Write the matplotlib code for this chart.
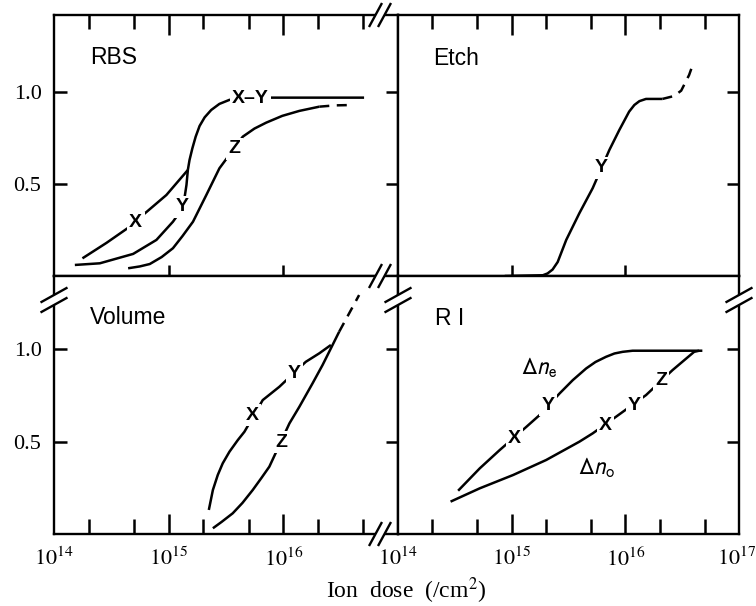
import numpy as np
import matplotlib
matplotlib.use('Agg')
import matplotlib.pyplot as plt
from matplotlib.lines import Line2D
from matplotlib.patches import Polygon
from matplotlib.ticker import FixedLocator, FixedFormatter
from matplotlib.transforms import offset_copy

plt.rcParams['mathtext.fontset'] = 'stix'
plt.rcParams['font.family'] = ['Liberation Serif', 'DejaVu Serif']

# ---------------- data ----------------
# RBS panel
rbs_x_dose = [1.77e14, 2.87e14, 4.58e14, 5.98e14, 9.55e14, 1.47e15]
rbs_x_val = [0.096, 0.18, 0.268, 0.332, 0.44, 0.576]
rbs_xy_dose = [1.47e15, 1.52e15, 1.61e15, 1.72e15, 1.86e15, 2.06e15, 2.35e15, 2.77e15, 3.39e15,
               5.16e15, 7.87e15, 5.06e16]
rbs_xy_val = [0.576, 0.630, 0.694, 0.757, 0.815, 0.862, 0.902, 0.935, 0.957, 0.967, 0.969, 0.969]
rbs_y_dose = [1.52e14, 2.51e14, 4.90e14, 7.82e14, 1.09e15, 1.29e15, 1.38e15, 1.43e15, 1.47e15]
rbs_y_val = [0.06, 0.069, 0.12, 0.196, 0.295, 0.359, 0.431, 0.495, 0.576]
rbs_z_dose = [4.43e14, 5.60e14, 6.84e14, 8.69e14, 1.09e15, 1.32e15, 1.63e15, 2.13e15, 2.77e15,
              4.43e15, 5.60e15, 7.08e15, 9.79e15, 1.38e16, 2.06e16]
rbs_z_val = [0.042, 0.052, 0.065, 0.103, 0.151, 0.217, 0.295, 0.44, 0.585, 0.757, 0.801, 0.833,
             0.87, 0.897, 0.92]
rbs_z_dash_dose = [2.06e16, 2.83e16, 4.01e16]
rbs_z_dash_val = [0.92, 0.927, 0.929]

# Etch panel
etch_dose = [8.69e14, 1.88e15, 2.07e15, 2.29e15, 2.54e15, 3.02e15, 3.94e15, 5.16e15, 7.24e15,
             8.85e15, 1.08e16, 1.20e16, 1.33e16, 1.52e16, 2.12e16]
etch_val = [0.0, 0.004, 0.014, 0.035, 0.076, 0.196, 0.341, 0.477, 0.685, 0.793, 0.893, 0.929,
            0.95, 0.962, 0.962]
etch_dash_dose = [2.12e16, 2.69e16, 3.10e16, 3.64e16, 3.94e16]
etch_dash_val = [0.962, 0.978, 1.007, 1.092, 1.152]

# Volume panel
vol_x_dose = [2.24e15, 2.43e15, 2.68e15, 2.96e15, 3.39e15, 4.01e15, 4.58e15, 6.61e15, 9.23e15,
              1.57e16, 2.06e16, 2.60e16]
vol_x_val = [0.13, 0.238, 0.319, 0.382, 0.445, 0.508, 0.553, 0.724, 0.796, 0.931, 0.977, 1.022]
vol_z_dose = [2.43e15, 2.89e15, 3.62e15, 4.40e15, 5.41e15, 6.44e15, 7.55e15, 1.13e16, 1.38e16,
              1.80e16, 2.20e16, 2.60e16, 3.07e16]
vol_z_val = [0.031, 0.065, 0.112, 0.168, 0.238, 0.303, 0.364, 0.598, 0.688, 0.815, 0.914, 1.004,
             1.094]
vol_dash_dose = [3.07e16, 4.58e16]
vol_dash_val = [1.094, 1.292]

# RI panel
ri_e_dose = [3.38e14, 5.24e14, 7.85e14, 1.35e15, 1.76e15, 2.64e15, 3.45e15, 4.52e15, 5.46e15,
             6.76e15, 8.02e15, 9.48e15, 1.16e16, 4.76e16]
ri_e_val = [0.234, 0.355, 0.454, 0.58, 0.643, 0.76, 0.832, 0.895, 0.93, 0.958, 0.976, 0.985,
            0.991, 0.991]
ri_o_dose = [2.90e14, 5.24e14, 1.03e15, 2.01e15, 3.94e15, 5.16e15, 8.28e15, 1.52e16, 2.60e16,
             4.03e16, 4.46e16]
ri_o_val = [0.175, 0.247, 0.319, 0.4, 0.499, 0.544, 0.634, 0.751, 0.886, 0.985, 0.991]

# curve labels: (text, dose, value)
rbs_labels = [('X', 5.16e14, 0.29), ('Y', 1.32e15, 0.375), ('X\u2013Y', 5.16e15, 0.967),
              ('Z', 3.75e15, 0.69)]
etch_labels = [('Y', 6.15e15, 0.587)]
vol_labels = [('X', 5.37e15, 0.643), ('Y', 1.25e16, 0.87), ('Z', 9.6e15, 0.497)]
ri_labels = [('X', 1.06e15, 0.517), ('Y', 2.08e15, 0.697), ('X', 6.68e15, 0.589),
             ('Y', 1.2e16, 0.697), ('Z', 2.06e16, 0.832)]
ri_delta_labels = [(r'$\Delta\mathit{n}_{\mathrm{e}}$', 1.76e15, 0.897),
                   (r'$\Delta\mathit{n}_{\mathrm{o}}$', 5.57e15, 0.357)]

panel_titles = ['RBS', 'Etch', 'Volume', 'R I']
ytick_vals = [0.5, 1.0]
ytick_text = ['0.5', '1.0']
xmajor = [1e15, 1e16]
xminor = [2e14, 5e14, 2e15, 5e15, 2e16, 5e16]
xlabel_pos_left = [1e14, 1e15, 1e16]
xlabels_left = [r'$10^{14}$', r'$10^{15}$', r'$10^{16}$']
xlabel_pos_right = [1e14, 1e15, 1e16]
xlabels_right = [r'$10^{14}$', r'$10^{15}$', r'$10^{16}$']
xlabel_last = r'$10^{17}$'

# ---------------- figure ----------------
W, H = 756, 606
fig = plt.figure(figsize=(W / 100, H / 100), dpi=100)
fig.patch.set_facecolor('white')

def rect(l, t, r, b):
    return [l / W, 1 - b / H, (r - l) / W, (b - t) / H]

ax_tl = fig.add_axes(rect(54, 15, 398, 276))
ax_tr = fig.add_axes(rect(398, 15, 739, 276))
ax_bl = fig.add_axes(rect(54, 276, 398, 534))
ax_br = fig.add_axes(rect(398, 276, 739, 534))
axes = (ax_tl, ax_tr, ax_bl, ax_br)
ylims = {ax_tl: (0, 1.418), ax_tr: (0, 1.418), ax_bl: (0, 1.395), ax_br: (0, 1.395)}

LW = 1.8
SPW = 1.7
TLW = 1.8
TICK_FS = 16
for ax in axes:
    ax.set_xscale('log')
    ax.set_xlim(1e14, 1e17)
    ax.set_ylim(*ylims[ax])
    for s in ax.spines.values():
        s.set_linewidth(SPW)
    ax.xaxis.set_minor_locator(FixedLocator([]))
    ax.tick_params(which='both', length=0, direction='in', labelsize=TICK_FS)

# tick labels
for ax, pos, labs in ((ax_bl, xlabel_pos_left, xlabels_left), (ax_br, xlabel_pos_right, xlabels_right)):
    ax.xaxis.set_major_locator(FixedLocator(pos))
    ax.xaxis.set_major_formatter(FixedFormatter(labs))
    ax.tick_params(axis='x', pad=10)
for ax in (ax_tl, ax_tr):
    ax.xaxis.set_major_locator(FixedLocator([]))
for ax in (ax_tl, ax_bl):
    ax.yaxis.set_major_locator(FixedLocator(ytick_vals))
    ax.yaxis.set_major_formatter(FixedFormatter(ytick_text))
    ax.tick_params(axis='y', pad=9)
for ax in (ax_tr, ax_br):
    ax.yaxis.set_major_locator(FixedLocator([]))
ax_br.text(1e17, 0, xlabel_last, ha='right', va='top', fontsize=TICK_FS,
           transform=offset_copy(ax_br.get_xaxis_transform(), fig=fig, x=17, y=-10 * 100 / 72,
                                 units='dots'))

# tick marks drawn in data coordinates (lengths given in pixels)
def xticks(ax, xs, side, L, mode):
    y0, y1 = ylims[ax]
    d = L / (ax.get_position().height * H) * (y1 - y0)
    for x in xs:
        if mode == 'inout':
            yb = y0 if side == 'bottom' else y1
            ys = [yb - d / 2, yb + d / 2]
        elif side == 'bottom':
            ys = [y0, y0 + d]
        else:
            ys = [y1, y1 - d]
        ax.plot([x, x], ys, color='black', lw=TLW, solid_capstyle='butt', clip_on=False, zorder=4)

def yticks(ax, ys, side, L, mode):
    lx0, lx1 = 14.0, 17.0
    dl = L / (ax.get_position().width * W) * (lx1 - lx0)
    for y in ys:
        if mode == 'inout':
            lb = lx0 if side == 'left' else lx1
            xs = [10 ** (lb - dl / 2), 10 ** (lb + dl / 2)]
        elif side == 'left':
            xs = [10 ** lx0, 10 ** (lx0 + dl)]
        else:
            xs = [10 ** lx1, 10 ** (lx1 - dl)]
        ax.plot(xs, [y, y], color='black', lw=TLW, solid_capstyle='butt', clip_on=False, zorder=4)

for ax in (ax_tl, ax_tr):
    xticks(ax, xmajor, 'top', 20, 'in')
    xticks(ax, xminor, 'top', 14, 'in')
    xticks(ax, xmajor, 'bottom', 22, 'inout')
for ax in (ax_bl, ax_br):
    xticks(ax, xmajor, 'bottom', 20, 'in')
    xticks(ax, xminor, 'bottom', 15, 'in')
for ax in (ax_tl, ax_bl):
    yticks(ax, ytick_vals, 'left', 13, 'in')
    yticks(ax, ytick_vals, 'right', 25, 'inout')
for ax in (ax_tr, ax_br):
    yticks(ax, ytick_vals, 'right', 12, 'in')

# ---------------- curves ----------------
def solid(ax, x, y, **kw):
    ax.plot(x, y, color='black', lw=LW, solid_capstyle='butt', solid_joinstyle='round', **kw)

def dashed(ax, x, y):
    ax.plot(x, y, color='black', lw=LW, ls=(0, (4.0, 3.0)), dash_capstyle='butt')

solid(ax_tl, rbs_x_dose, rbs_x_val)
solid(ax_tl, rbs_xy_dose, rbs_xy_val)
solid(ax_tl, rbs_y_dose, rbs_y_val)
solid(ax_tl, rbs_z_dose, rbs_z_val)
dashed(ax_tl, rbs_z_dash_dose, rbs_z_dash_val)

solid(ax_tr, etch_dose, etch_val, clip_on=False)
dashed(ax_tr, etch_dash_dose, etch_dash_val)

solid(ax_bl, vol_x_dose, vol_x_val)
solid(ax_bl, vol_z_dose, vol_z_val)
dashed(ax_bl, vol_dash_dose, vol_dash_val)

solid(ax_br, ri_e_dose, ri_e_val)
solid(ax_br, ri_o_dose, ri_o_val)

for ax in axes:
    ax.set_xlim(1e14, 1e17)
    ax.set_ylim(*ylims[ax])

lab_kw = dict(ha='center', va='center', fontsize=14, fontweight='bold',
              family=['Liberation Sans', 'DejaVu Sans'],
              bbox=dict(boxstyle='square,pad=0.12', fc='white', ec='none'), zorder=5)
for ax, labs in ((ax_tl, rbs_labels), (ax_tr, etch_labels), (ax_bl, vol_labels), (ax_br, ri_labels)):
    for t, x, y in labs:
        ax.text(x, y, t, **lab_kw)
for t, x, y in ri_delta_labels:
    ax_br.text(x, y, t, ha='center', va='center', fontsize=17, math_fontfamily='stixsans')

title_pos = [(ax_tl, 0.105, 0.839), (ax_tr, 0.103, 0.835), (ax_bl, 0.105, 0.841), (ax_br, 0.108, 0.837)]
for (ax, tx, ty), t in zip(title_pos, panel_titles):
    ax.text(tx, ty, t, transform=ax.transAxes, ha='left', va='center', fontsize=16.5,
            family=['Liberation Sans', 'DejaVu Sans'])

fig.text(406 / W, 1 - 591 / H, 'Ion  dose  (/cm$^2$)', ha='center', va='center', fontsize=17)

# ---------------- axis-break marks ----------------
def px(x, y):
    return (x / W, 1 - y / H)

def brk(cx, cy, dx, dy, sx, sy):
    a1 = (cx - sx / 2 - dx / 2, cy - sy / 2 + dy / 2)
    b1 = (cx - sx / 2 + dx / 2, cy - sy / 2 - dy / 2)
    a2 = (cx + sx / 2 - dx / 2, cy + sy / 2 + dy / 2)
    b2 = (cx + sx / 2 + dx / 2, cy + sy / 2 - dy / 2)
    poly = Polygon([px(*a1), px(*b1), px(*b2), px(*a2)], closed=True, fc='white', ec='none',
                   transform=fig.transFigure, zorder=10)
    fig.add_artist(poly)
    for a, b in ((a1, b1), (a2, b2)):
        fig.add_artist(Line2D([px(*a)[0], px(*b)[0]], [px(*a)[1], px(*b)[1]], color='black',
                              lw=1.7, transform=fig.transFigure, zorder=11, solid_capstyle='butt'))

for cy in (15, 276, 534):
    brk(380, cy, 13, 24, 9, 0)
for cx in (54, 398, 739):
    brk(cx, 300, 27, 15, 0, 10)

fig.savefig('out.png', dpi=100, facecolor='white')
